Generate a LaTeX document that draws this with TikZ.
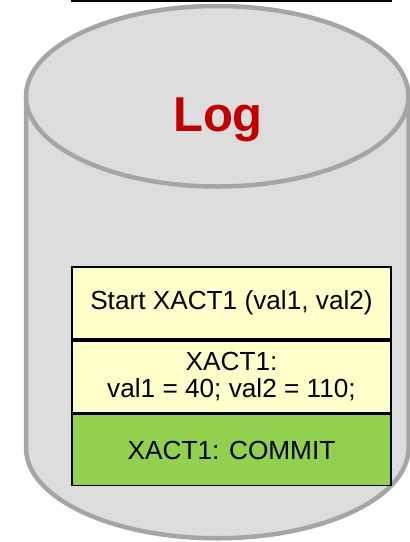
\documentclass[tikz,border=0pt]{standalone}
\usepackage{fontspec}
\setmainfont{Liberation Sans}
\definecolor{drumfill}{HTML}{DDDDDD}
\definecolor{drumline}{HTML}{A5A5A5}
\definecolor{entryfill}{HTML}{FFFFCC}
\definecolor{commitfill}{HTML}{92D050}
\definecolor{logred}{HTML}{C00000}
\tikzset{
  drum/.style={fill=drumfill, draw=drumline, line width=4.5pt},
  entry/.style={draw=black, line width=1.8pt, fill=entryfill, minimum width=319.5pt,
    inner sep=0pt, align=center, font=\fontsize{26.2}{27}\selectfont},
}
\begin{document}
\begin{tikzpicture}[x=1pt,y=-1pt]
  \useasboundingbox (0,0) rectangle (410,542);
  \clip (0,0) rectangle (410,542);
  % rule along the top edge
  \coordinate (ruleL) at (71,0.6);
  \coordinate (ruleR) at (392,0.6);
  \draw[line width=2pt] (ruleL) -- (ruleR);
  % cylinder body with rounded base
  \path[drum] (26,96) -- (26,448) arc[start angle=180, end angle=0, x radius=191.25, y radius=90.25]
    -- (408.5,96);
  \path[fill=drumfill] (28.5,96) rectangle (406,200);
  % cylinder lid
  \path[drum] (217.25,96.25) ellipse[x radius=191.25, y radius=90.25];
  \node[text=logred, font=\fontsize{49}{50}\selectfont\bfseries] (title) at (218,120) {Log};
  % log records
  \node[entry, minimum height=72pt, anchor=north] (start) at (231.5,266) {Start XACT1 (val1, val2)};
  \node[entry, minimum height=72pt, anchor=north] (write) at (start.south) {XACT1:\\val1 = 40; val2 = 110;};
  \node[entry, minimum height=71pt, anchor=north, fill=commitfill] (commit) at (write.south) {XACT1: COMMIT};
\end{tikzpicture}
\end{document}
